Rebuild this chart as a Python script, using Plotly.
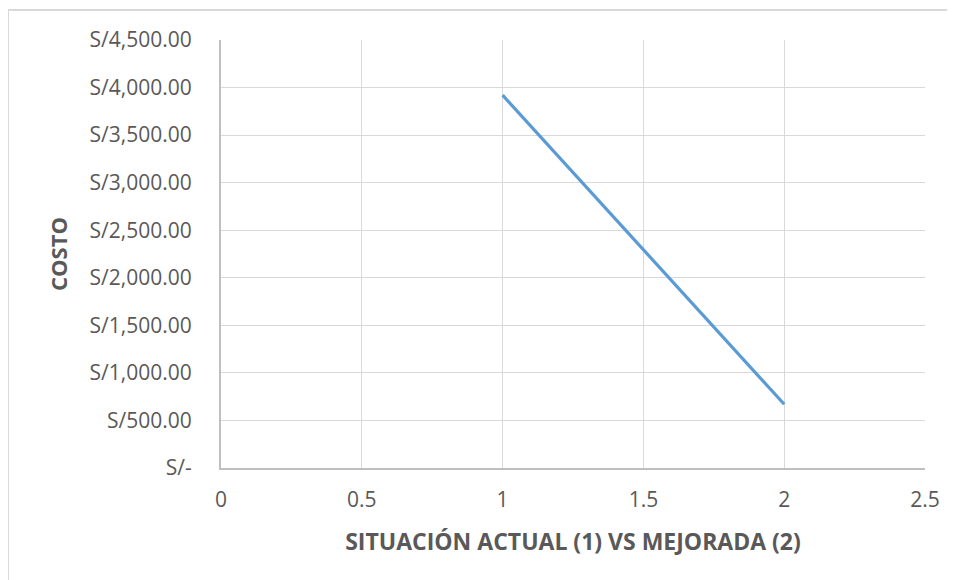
import plotly.graph_objects as go

situacion = [1, 2]
costo = [3920, 670]

y_tickvals = [0, 500, 1000, 1500, 2000, 2500, 3000, 3500, 4000, 4500]
y_ticktext = ["S/-", "S/500.00", "S/1,000.00", "S/1,500.00", "S/2,000.00",
              "S/2,500.00", "S/3,000.00", "S/3,500.00", "S/4,000.00", "S/4,500.00"]
x_tickvals = [0, 0.5, 1, 1.5, 2, 2.5]
x_ticktext = ["0", "0.5", "1", "1.5", "2", "2.5"]

FONT = "Open Sans, Noto Sans, sans-serif"
GRAY = "#595959"

fig = go.Figure()
fig.add_trace(go.Scatter(x=situacion, y=costo, mode="lines",
                         line=dict(color="#5B9BD5", width=3.2), showlegend=False))

# page body has an 8px margin, so the figure is shifted by 8px
W, H = 947, 572
L, R, T, B = 213, 30, 32, 112
pw, ph = W - L - R, H - T - B

def px_x(p):
    return (p - L) / pw

def px_y(p):
    return (H - B - p) / ph

# outer chart frame (top and left edges visible)
fig.add_shape(type="line", xref="paper", yref="paper",
              x0=px_x(0), x1=px_x(960), y0=px_y(2), y1=px_y(2),
              line=dict(color="#d9d9d9", width=2))
fig.add_shape(type="line", xref="paper", yref="paper",
              x0=px_x(0), x1=px_x(0), y0=px_y(2), y1=px_y(590),
              line=dict(color="#d9d9d9", width=2))

fig.update_layout(
    width=W, height=H,
    margin=dict(l=L, r=R, t=T, b=B),
    paper_bgcolor="white", plot_bgcolor="white",
    font=dict(family=FONT, color=GRAY, size=21),
    xaxis=dict(range=[0, 2.5], tickvals=x_tickvals, ticktext=x_ticktext,
               showgrid=True, gridcolor="#d9d9d9", gridwidth=1,
               showline=True, linecolor="#bfbfbf", linewidth=2, mirror=False,
               zeroline=False, ticklabelstandoff=12,
               tickfont=dict(size=21, color=GRAY),
               title=dict(text="<b>SITUACIÓN ACTUAL (1) VS MEJORADA (2)</b>",
                          font=dict(size=23, color=GRAY), standoff=22)),
    yaxis=dict(range=[0, 4500], tickvals=y_tickvals, ticktext=y_ticktext,
               showgrid=True, gridcolor="#d9d9d9", gridwidth=1,
               showline=True, linecolor="#bfbfbf", linewidth=2,
               zeroline=False, ticklabelstandoff=23,
               tickfont=dict(size=21, color=GRAY),
               title=dict(text="<b>COSTO</b>", font=dict(size=22, color=GRAY),
                          standoff=16)),
)

fig.write_html("out.html")
